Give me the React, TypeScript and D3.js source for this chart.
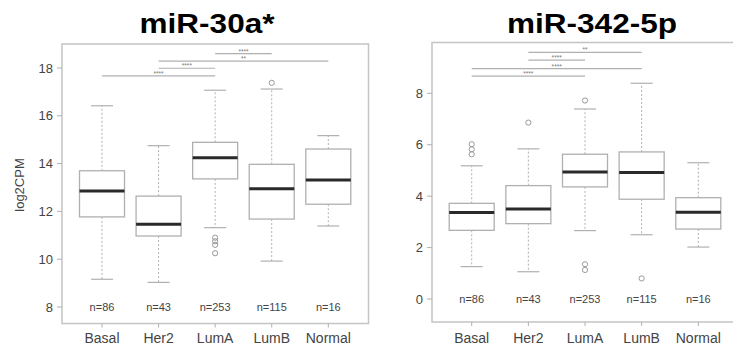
import React from "react";
import * as d3 from "d3";

const categories = ["Basal", "Her2", "LumA", "LumB", "Normal"];
const counts = [86, 43, 253, 115, 16];

// [lowerWhisker, Q1, median, Q3, upperWhisker]
const statsA = [
  [9.16, 11.77, 12.85, 13.7, 16.42],
  [9.03, 10.97, 11.46, 12.64, 14.75],
  [11.32, 13.36, 14.25, 14.89, 17.07],
  [9.92, 11.68, 12.95, 13.97, 17.12],
  [11.39, 12.3, 13.31, 14.61, 15.17],
];
const outliersA = [[], [], [10.9, 10.75, 10.6, 10.25], [17.38], []];
const sigA = [
  { a: "Basal", b: "LumA", y: 17.67, label: "****" },
  { a: "Her2", b: "LumA", y: 17.99, label: "****" },
  { a: "Her2", b: "Normal", y: 18.29, label: "**" },
  { a: "LumA", b: "LumB", y: 18.6, label: "****" },
];
const ticksA = [8, 10, 12, 14, 16, 18];

const statsB = [
  [1.26, 2.67, 3.36, 3.72, 5.18],
  [1.06, 2.93, 3.5, 4.41, 5.84],
  [2.66, 4.36, 4.94, 5.63, 7.39],
  [2.5, 3.88, 4.92, 5.72, 8.39],
  [2.02, 2.72, 3.37, 3.94, 5.3],
];
const outliersB = [[6.02, 5.82, 5.63], [6.86], [7.72, 1.35, 1.13], [0.8], []];
const sigB = [
  { a: "Basal", b: "LumA", y: 8.67, label: "****" },
  { a: "Basal", b: "LumB", y: 8.96, label: "****" },
  { a: "Her2", b: "LumA", y: 9.29, label: "****" },
  { a: "Her2", b: "LumB", y: 9.59, label: "**" },
];
const ticksB = [0, 2, 4, 6, 8];

const GRAY = "#b0b0b0";
const TXT = "#444";
const FONT = "Liberation Sans, Arial, sans-serif";

type PanelProps = {
  title: string;
  titleX: number;
  titleW: number;
  frame: { x0: number; x1: number; y0: number; y1: number };
  yDomain: [number, number];
  yRange: [number, number];
  xRange: [number, number];
  stats: number[][];
  outliers: number[][];
  sig: { a: string; b: string; y: number; label: string }[];
  ticks: number[];
  nValue: number;
  ylabel?: string;
};

function Panel(p: PanelProps) {
  const y = d3.scaleLinear().domain(p.yDomain).range(p.yRange);
  const x = d3.scalePoint<string>().domain(categories).range(p.xRange);
  const bw = 45;
  const cw = 22;
  const { x0, x1, y0, y1 } = p.frame;
  return (
    <g>
      <text
        x={p.titleX}
        y={33}
        textAnchor="middle"
        fontFamily={FONT}
        fontWeight="bold"
        fontSize={27}
        textLength={p.titleW}
        lengthAdjust="spacingAndGlyphs"
        fill="#000"
      >
        {p.title}
      </text>
      <rect x={x0} y={y0} width={x1 - x0} height={y1 - y0} fill="none" stroke="#c4c4c4" strokeWidth={1.5} />
      {p.ticks.map((t) => (
        <g key={t}>
          <line x1={x0 - 5} x2={x0} y1={y(t)} y2={y(t)} stroke={GRAY} />
          <text x={x0 - 9} y={y(t)} dy="0.36em" textAnchor="end" fontFamily={FONT} fontSize={13} fill={TXT}>
            {t}
          </text>
        </g>
      ))}
      {categories.map((c) => (
        <g key={c}>
          <line x1={x(c)!} x2={x(c)!} y1={y1} y2={y1 + 4} stroke={GRAY} />
          <text x={x(c)!} y={343} textAnchor="middle" fontFamily={FONT} fontSize={14} fill={TXT}>
            {c}
          </text>
        </g>
      ))}
      {p.ylabel && (
        <text
          transform={`translate(24,185) rotate(-90)`}
          textAnchor="middle"
          fontFamily={FONT}
          fontSize={13}
          fill={TXT}
        >
          {p.ylabel}
        </text>
      )}
      {p.stats.map((s, i) => {
        const cx = x(categories[i])!;
        const [lw, q1, med, q3, uw] = s;
        return (
          <g key={i}>
            <line x1={cx} x2={cx} y1={y(q3)} y2={y(uw)} stroke={GRAY} strokeDasharray="2,2" />
            <line x1={cx} x2={cx} y1={y(q1)} y2={y(lw)} stroke={GRAY} strokeDasharray="2,2" />
            <line x1={cx - cw / 2} x2={cx + cw / 2} y1={y(uw)} y2={y(uw)} stroke={GRAY} strokeWidth={1.2} />
            <line x1={cx - cw / 2} x2={cx + cw / 2} y1={y(lw)} y2={y(lw)} stroke={GRAY} strokeWidth={1.2} />
            <rect x={cx - bw / 2} y={y(q3)} width={bw} height={y(q1) - y(q3)} fill="#fff" stroke={GRAY} strokeWidth={1.3} />
            <line x1={cx - bw / 2} x2={cx + bw / 2} y1={y(med)} y2={y(med)} stroke="#2a2a2a" strokeWidth={3} />
            {p.outliers[i].map((o, j) => (
              <circle key={j} cx={cx} cy={y(o)} r={2.6} fill="none" stroke="#999" strokeWidth={1} />
            ))}
            <text x={cx} y={y(p.nValue)} dy="0.36em" textAnchor="middle" fontFamily={FONT} fontSize={11} fill={TXT}>
              {`n=${counts[i]}`}
            </text>
          </g>
        );
      })}
      {p.sig.map((s, i) => {
        const xa = x(s.a)!;
        const xb = x(s.b)!;
        return (
          <g key={i}>
            <line x1={xa} x2={xb} y1={y(s.y)} y2={y(s.y)} stroke={GRAY} strokeWidth={1.2} />
            <text x={(xa + xb) / 2} y={y(s.y)} textAnchor="middle" fontFamily={FONT} fontSize={6.5} fill="#777">
              {s.label}
            </text>
          </g>
        );
      })}
    </g>
  );
}

export default function App() {
  return (
    <svg
      width={733}
      height={348}
      style={{ position: "absolute", left: 0, top: 0, background: "#fff" }}
    >
      <rect width={733} height={348} fill="#fff" />
      <Panel
        title="miR-30a*"
        titleX={207}
        titleW={135}
        frame={{ x0: 62, x1: 368.5, y0: 44, y1: 323.5 }}
        yDomain={[8, 18]}
        yRange={[307, 68]}
        xRange={[102, 328.3]}
        stats={statsA}
        outliers={outliersA}
        sig={sigA}
        ticks={ticksA}
        nValue={8}
        ylabel="log2CPM"
      />
      <Panel
        title="miR-342-5p"
        titleX={592}
        titleW={170}
        frame={{ x0: 432, x1: 760, y0: 42.5, y1: 322 }}
        yDomain={[0, 8]}
        yRange={[299, 93.3]}
        xRange={[471.7, 698.3]}
        stats={statsB}
        outliers={outliersB}
        sig={sigB}
        ticks={ticksB}
        nValue={0}
      />
    </svg>
  );
}
